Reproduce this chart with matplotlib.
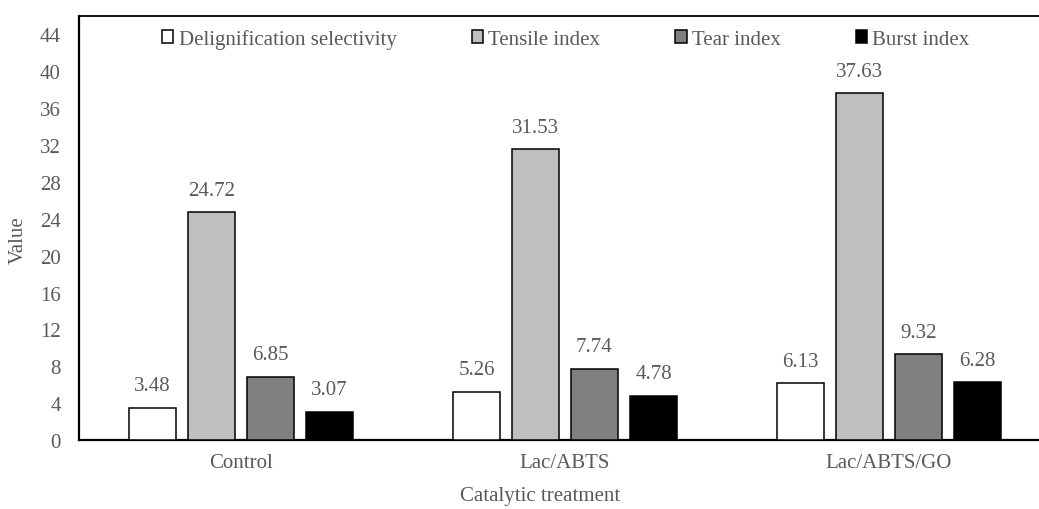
import matplotlib.pyplot as plt
import numpy as np

plt.rcParams['font.family'] = ['Liberation Serif', 'DejaVu Serif']

categories = ['Control', 'Lac/ABTS', 'Lac/ABTS/GO']
series_names = ['Delignification selectivity', 'Tensile index', 'Tear index', 'Burst index']
delignification = [3.48, 5.26, 6.13]
tensile = [24.72, 31.53, 37.63]
tear = [6.85, 7.74, 9.32]
burst = [3.07, 4.78, 6.28]
colors = ['white', '#BFBFBF', '#808080', 'black']
yticks = list(range(0, 45, 4))

txt = '#595959'
W, H = 1039, 510
fig = plt.figure(figsize=(W / 100, H / 100), dpi=100)
ax = fig.add_axes([79 / W, 1 - 441 / H, 972 / W, 424 / H])

x = np.arange(len(categories))
step = 0.182
width = 0.145
for i, (name, vals) in enumerate(zip(series_names, [delignification, tensile, tear, burst])):
    pos = x + (i - 1.5) * step
    bars = ax.bar(pos, vals, width, color=colors[i], edgecolor='black', linewidth=1.1,
                  label=name, zorder=3)
    for b, v in zip(bars, vals):
        ax.annotate(f'{v:.2f}', (b.get_x() + b.get_width() / 2, v), xytext=(0, 9),
                    textcoords='offset points', ha='center', va='bottom',
                    fontsize=15, color=txt)

ax.set_xlim(-0.5, 2.5)
ax.set_ylim(0, 46)
ax.set_yticks(yticks)
ax.set_xticks(x)
ax.set_xticklabels(categories)
ax.tick_params(axis='both', length=0, labelsize=15, labelcolor=txt)
ax.tick_params(axis='y', pad=13)
ax.tick_params(axis='x', pad=9)

for s in ['left', 'bottom']:
    ax.spines[s].set_linewidth(1.6)
    ax.spines[s].set_color('black')
ax.spines['top'].set_linewidth(1.3)
ax.spines['top'].set_color('black')
ax.spines['right'].set_visible(False)

fig.text(18 / W, 1 - 240 / H, 'Value', rotation=90, ha='center', va='center',
         fontsize=15, color=txt)
fig.text(540 / W, 1 - 497 / H, 'Catalytic treatment', ha='center', va='center',
         fontsize=15, color=txt)

leg = ax.legend(ncol=4, loc='center left', bbox_to_anchor=(162 / W, 1 - 40 / H),
                bbox_transform=fig.transFigure, frameon=False, fontsize=15,
                handlelength=0.55, handleheight=0.55, handletextpad=0.25,
                columnspacing=3.6, borderpad=0, borderaxespad=0)
for t in leg.get_texts():
    t.set_color(txt)

fig.savefig('out.png', dpi=100)
